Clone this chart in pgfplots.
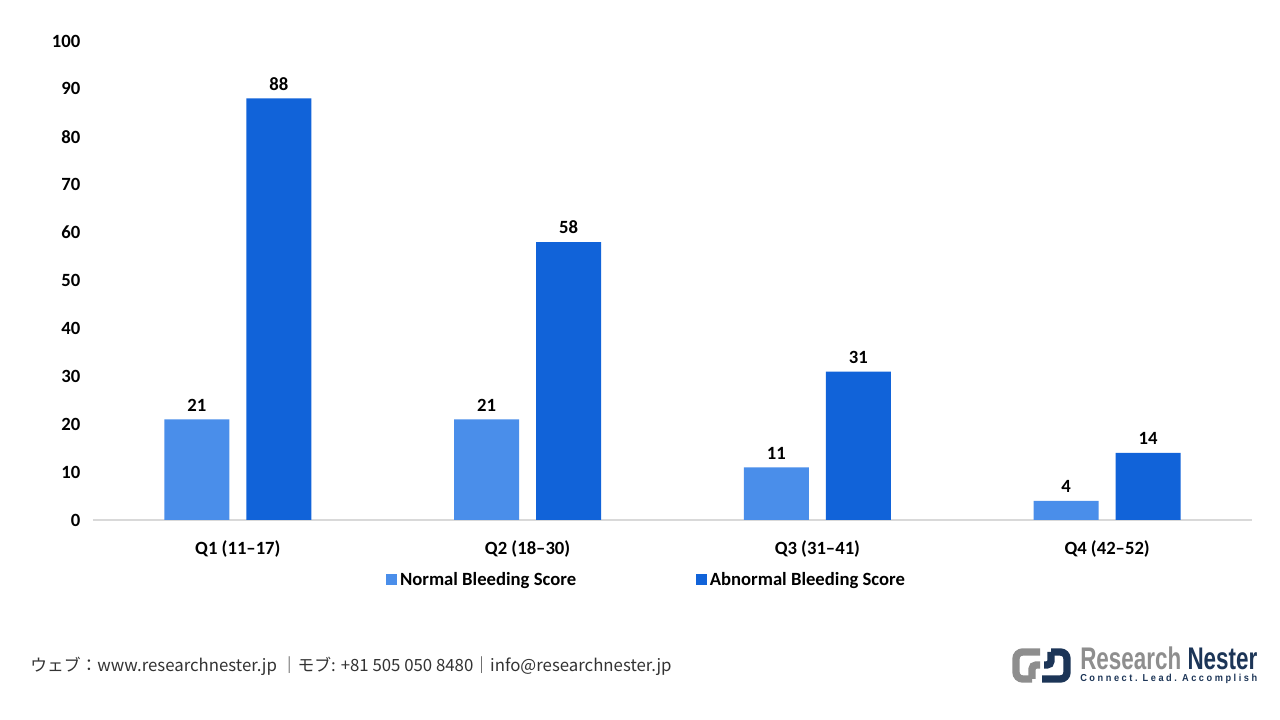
\documentclass[border=0pt]{standalone}
\usepackage{pgfplots}
\pgfplotsset{compat=1.18}
\usepackage{fontspec}
\setmainfont{Carlito}
\newfontfamily\cjk{Noto Sans CJK JP}
\newfontfamily\logofont{Liberation Sans}
\definecolor{lightb}{HTML}{4A8EEA}
\definecolor{darkb}{HTML}{1163D9}
\definecolor{navy}{HTML}{1C3557}
\definecolor{logogray}{HTML}{8E8E8E}
\begin{document}
\begin{tikzpicture}[x=0.75pt,y=0.75pt]
\path[fill=white] (0,0) rectangle (1280,720);
\begin{axis}[
  at={(69.75pt,150pt)}, anchor=south west,
  scale only axis, width=869.25pt, height=359.25pt,
  xmin=-0.5, xmax=3.5, ymin=0, ymax=100,
  ybar=12.75pt, bar width=48.75pt,
  axis x line*=bottom, axis y line*=left,
  y axis line style={draw=none},
  x axis line style={draw=black!15, line width=0.8pt, -},
  major tick length=0pt,
  xtick={0,1,2,3},
  xticklabels={Q1 (11–17),Q2 (18–30),Q3 (31–41),Q4 (42–52)},
  ytick={0,10,...,100},
  /pgf/number format/assume math mode=true,
  tick label style={font=\fontsize{14}{16}\selectfont\bfseries, text=black},
  yticklabel style={xshift=-6pt},
  xticklabel style={yshift=-12pt},
  nodes near coords,
  every node near coord/.append style={font=\fontsize{14}{16}\selectfont\bfseries, text=black, yshift=2.5pt},
  legend columns=2,
  legend style={at={(0.478,-0.125)}, anchor=center, draw=none, fill=none,
    font=\fontsize{14}{16}\selectfont\bfseries,
    /tikz/every even column/.append style={column sep=88pt}},
  legend image code/.code={\fill[#1] (0pt,-4pt) rectangle (8.25pt,4.25pt);},
  clip=false,
]
\addplot[fill=lightb, draw=none] coordinates {(0,21) (1,21) (2,11) (3,4)};
\addplot[fill=darkb, draw=none] coordinates {(0,88) (1,58) (2,31) (3,14)};
\legend{Normal Bleeding Score, Abnormal Bleeding Score}
\end{axis}
% footer
\node[anchor=base west, inner sep=0pt, text=black!80, font=\cjk\fontsize{12.6}{14}\selectfont] at (30,48)
  {ウェブ：www.researchnester.jp ｜モブ: +81 505 050 8480｜info@researchnester.jp};
% logo icon
\draw[logogray, line width=5.5pt, rounded corners=5pt] (1040,68) -- (1016,68) -- (1016,41) -- (1032,41);
\draw[logogray, line width=5.5pt, rounded corners=3pt] (1032,41) -- (1032,55) -- (1040,55);
\draw[navy, line width=5.5pt, rounded corners=5pt] (1042,41) -- (1067,41) -- (1067,68) -- (1051,68);
\draw[navy, line width=5.5pt, rounded corners=3pt] (1051,68) -- (1051,55) -- (1044,55);
% logo text
\node[anchor=south west, inner sep=0pt] at (1080,50)
  {\resizebox{132.75pt}{17pt}{\logofont\bfseries\textcolor{logogray}{Research} \textcolor{navy}{Nester}}};
\node[anchor=south west, inner sep=0pt] at (1080,36)
  {\resizebox{132.75pt}{5.5pt}{\logofont\bfseries\textcolor{navy}{C o n n e c t .~~L e a d .~~A c c o m p l i s h}}};
\end{tikzpicture}
\end{document}
